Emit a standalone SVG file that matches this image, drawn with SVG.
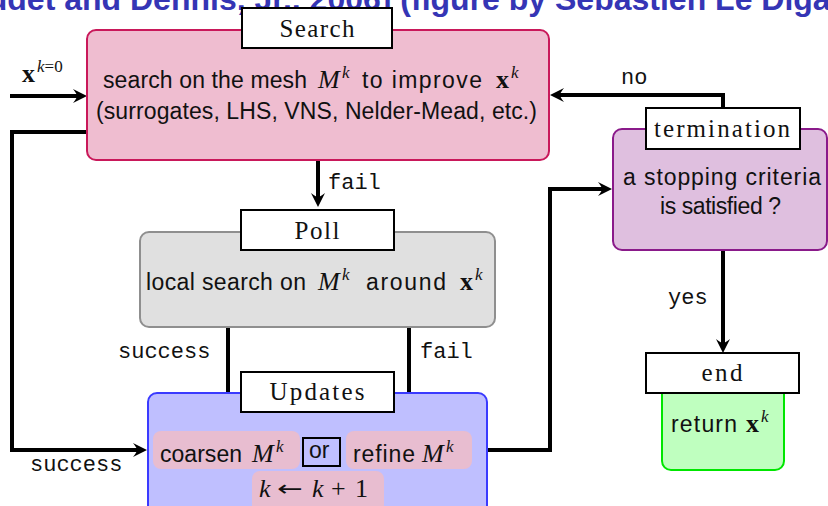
<svg xmlns="http://www.w3.org/2000/svg" width="828" height="506" viewBox="0 0 828 506">
<style>
  .lbl { fill:#fff; stroke:#000; stroke-width:2; }
  .serif { font-family:"Liberation Serif","DejaVu Serif",serif; font-size:25px; fill:#111; text-anchor:middle; }
  .sans { font-family:"Liberation Sans","DejaVu Sans",sans-serif; font-size:23px; fill:#111; }
  .mono { font-family:"Liberation Mono","DejaVu Sans Mono",monospace; font-size:22px; fill:#111; }
  .mi { font-family:"Liberation Serif","DejaVu Serif",serif; font-style:italic; font-size:26px; fill:#111; }
  .mb { font-family:"Liberation Serif","DejaVu Serif",serif; font-weight:bold; font-size:26px; fill:#111; }
  .sup { font-family:"Liberation Serif","DejaVu Serif",serif; font-style:italic; font-size:17px; fill:#111; }
  .conn { fill:none; stroke:#000; stroke-width:4; stroke-linejoin:miter; }
  .inner { fill:#e8bdd0; }
</style>
<defs>
  <marker id="arr" viewBox="-15 -8 16 16" refX="-5" refY="0" markerWidth="16" markerHeight="16" markerUnits="userSpaceOnUse" orient="auto">
    <path d="M0,0 L-14,-7 Q-10,-2 -10,0 Q-10,2 -14,7 Z" fill="#000"/>
  </marker>
</defs>

<text x="-46" y="10" font-family="Liberation Sans, sans-serif" font-weight="bold" font-size="32" fill="#3535b5">[Audet and Dennis, Jr., 2006] (figure by Sébastien Le Digabel)</text>

<g id="connectors">
  <path class="conn" d="M10,96 H82" marker-end="url(#arr)"/>
  <path class="conn" d="M88,132 H12 V450 H142" marker-end="url(#arr)"/>
  <path class="conn" d="M318,160 V202" marker-end="url(#arr)"/>
  <path class="conn" d="M228,327 V420" marker-end="url(#arr)"/>
  <path class="conn" d="M409,327 V420" marker-end="url(#arr)"/>
  <path class="conn" d="M487,450 H550 V189 H607" marker-end="url(#arr)"/>
  <path class="conn" d="M723,108 V95 H555" marker-end="url(#arr)"/>
  <path class="conn" d="M723,250 V348" marker-end="url(#arr)"/>
  <text class="mb" x="22" y="82" font-size="24px">x</text>
  <text class="sup" x="37" y="72" font-size="16px">k<tspan font-style="normal">=0</tspan></text>
  <text class="mono" x="328" y="189">fail</text>
  <text class="mono" x="118" y="358">success</text>
  <text class="mono" x="420" y="358">fail</text>
  <text class="mono" x="30" y="471">success</text>
  <text class="mono" x="621" y="84">no</text>
  <text class="mono" x="668" y="304">yes</text>
</g>

<g id="search">
  <rect x="87" y="30" width="462" height="130" rx="9" fill="#efbdd0" stroke="#c9185a" stroke-width="2"/>
  <rect class="lbl" x="242" y="8" width="150" height="40"/>
  <text class="serif" x="317" y="37" textLength="75">Search</text>
  <text class="sans" x="103" y="88" textLength="204">search on the mesh</text>
  <text class="mi" x="318" y="88">M</text>
  <text class="sup" x="342" y="78">k</text>
  <text class="sans" x="362" y="88" textLength="120">to improve</text>
  <text class="mb" x="496" y="88">x</text>
  <text class="sup" x="511" y="78">k</text>
  <text class="sans" x="96" y="119" textLength="441">(surrogates, LHS, VNS, Nelder-Mead, etc.)</text>
</g>

<g id="poll">
  <rect x="140" y="232" width="355" height="95" rx="9" fill="#e0e0e0" stroke="#8f8f8f" stroke-width="2"/>
  <rect class="lbl" x="241" y="210" width="153" height="40"/>
  <text class="serif" x="317" y="239" textLength="45">Poll</text>
  <text class="sans" x="146" y="290" textLength="160">local search on</text>
  <text class="mi" x="318" y="290">M</text>
  <text class="sup" x="342" y="280">k</text>
  <text class="sans" x="366" y="290" textLength="80">around</text>
  <text class="mb" x="460" y="290">x</text>
  <text class="sup" x="475" y="280">k</text>
</g>

<g id="updates">
  <rect x="148" y="393" width="339" height="125" rx="9" fill="#bfbfff" stroke="#3a3aff" stroke-width="2"/>
  <rect class="lbl" x="241" y="372" width="153" height="40"/>
  <text class="serif" x="317" y="400" textLength="95">Updates</text>
  <rect class="inner" x="153" y="431" width="147" height="38" rx="8"/>
  <text class="sans" x="160" y="462" textLength="82">coarsen</text>
  <text class="mi" x="252" y="462">M</text>
  <text class="sup" x="276" y="452">k</text>
  <rect x="303" y="438" width="37" height="28" fill="#bfbfff" stroke="#000" stroke-width="2"/>
  <text class="sans" x="309" y="458" font-size="20px">or</text>
  <rect class="inner" x="346" y="431" width="126" height="38" rx="8"/>
  <text class="sans" x="353" y="462" textLength="62">refine</text>
  <text class="mi" x="422" y="462">M</text>
  <text class="sup" x="446" y="452">k</text>
  <rect class="inner" x="252" y="471" width="132" height="45" rx="8"/>
  <text class="mi" x="259" y="497">k</text>
  <text transform="translate(277,496) scale(1.4,1)" font-family="DejaVu Sans, sans-serif" font-size="22px" fill="#111">←</text>
  <text class="mi" x="312" y="497">k</text>
  <text x="331" y="497" font-family="Liberation Serif, serif" font-size="26px" fill="#111">+</text>
  <text x="355" y="497" font-family="Liberation Serif, serif" font-size="26px" fill="#111">1</text>
</g>

<g id="termination">
  <rect x="613" y="129" width="214" height="121" rx="9" fill="#dfbfdf" stroke="#8a1a8a" stroke-width="2"/>
  <rect class="lbl" x="646" y="108" width="154" height="41"/>
  <text class="serif" x="722" y="137" textLength="136">termination</text>
  <text class="sans" x="623" y="185" textLength="198">a stopping criteria</text>
  <text class="sans" x="660" y="214" textLength="121">is satisfied ?</text>
</g>

<g id="end">
  <rect x="662" y="380" width="122" height="90" rx="9" fill="#bfffbf" stroke="#00e600" stroke-width="2"/>
  <rect class="lbl" x="646" y="353" width="153" height="40"/>
  <text class="serif" x="722" y="381" textLength="41">end</text>
  <text class="sans" x="671" y="432" textLength="66">return</text>
  <text class="mb" x="746" y="432">x</text>
  <text class="sup" x="761" y="422">k</text>
</g>
</svg>
